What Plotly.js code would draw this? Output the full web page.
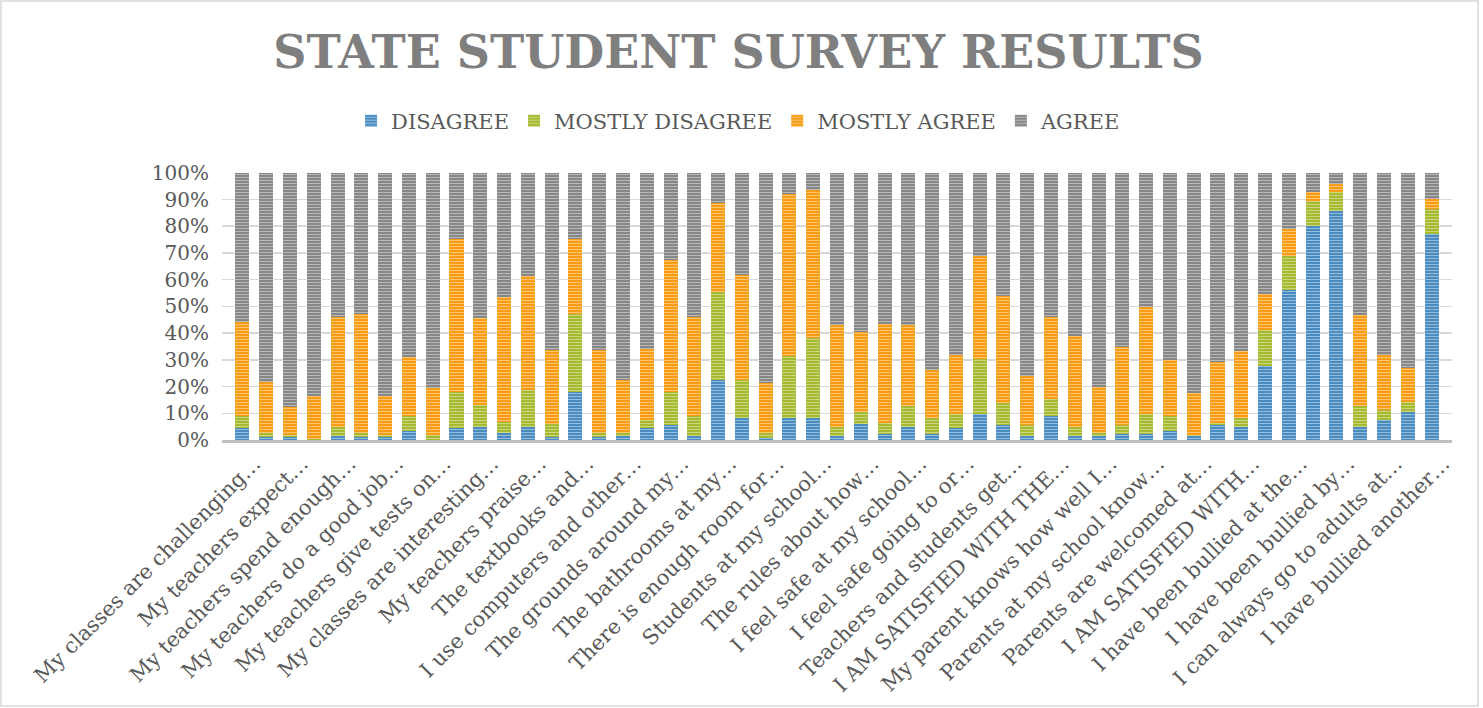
<!DOCTYPE html>
<html>
<head>
<meta charset="utf-8">
<script src="https://cdn.plot.ly/plotly-3.0.1.min.js"></script>
<style>html,body{margin:0;padding:0;background:#fff;}#chart{width:1483px;height:708px;}</style>
</head>
<body>
<div id="chart"></div>
<script>
// Shown tick labels (every other question)
const tickLabels = [
  "My classes are challenging…","My teachers expect…","My teachers spend enough…",
  "My teachers do a good job…","My teachers give tests on…","My classes are interesting…",
  "My teachers praise…","The textbooks and…","I use computers and other…",
  "The grounds around my…","The bathrooms at my…","There is enough room for…",
  "Students at my school…","The rules about how…","I feel safe at my school…",
  "I feel safe going to or…","Teachers and students get…","I AM SATISFIED WITH THE…",
  "My parent knows how well I…","Parents at my school know…","Parents are welcomed at…",
  "I AM SATISFIED WITH…","I have been bullied at the…","I have been bullied by…",
  "I can always go to adults at…","I have bullied another…"
];
const seriesNames = ["DISAGREE","MOSTLY DISAGREE","MOSTLY AGREE","AGREE"];

const disagree = [4.4,1.0,1.0,0.0,1.5,1.0,1.0,3.2,0.0,4.4,4.9,2.6,4.9,1.0,17.8,1.0,1.6,4.4,5.7,1.5,22.4,8.1,0.9,8.1,8.1,1.5,5.9,2.2,4.9,2.2,4.4,9.7,5.7,1.5,8.8,1.5,1.5,2.2,2.2,3.2,1.5,5.7,4.7,27.8,56.3,80.1,85.8,4.7,7.3,10.3,77.1];
const mostlyDisagree = [4.6,1.7,0.7,0.2,3.5,1.7,0.7,5.6,1.7,13.5,8.2,4.0,13.8,4.9,29.3,1.7,0.9,3.1,12.1,7.5,33.0,14.3,1.7,23.2,30.1,3.4,4.6,4.2,7.9,5.9,5.3,20.7,8.0,4.2,6.4,3.5,1.2,3.5,7.5,5.6,0.2,0.8,3.4,13.3,12.6,9.4,7.0,8.1,3.9,3.9,9.5];
const mostlyAgree = [35.0,19.1,10.5,16.4,41.2,44.3,14.7,22.1,17.6,57.2,32.5,47.1,42.7,27.8,28.0,31.0,19.9,26.4,49.6,37.2,33.4,39.4,18.9,60.6,55.2,38.1,30.0,37.2,30.2,18.1,22.1,38.3,40.1,18.2,31.0,33.9,17.2,29.2,40.2,21.2,16.0,22.8,25.3,13.6,10.2,3.2,3.1,34.0,20.6,12.7,3.7];
const agree = [56.0,78.2,87.8,83.4,53.8,53.0,83.6,69.1,80.7,24.9,54.4,46.3,38.6,66.3,24.9,66.3,77.6,66.1,32.6,53.8,11.2,38.2,78.5,8.1,6.6,57.0,59.5,56.4,57.0,73.8,68.2,31.3,46.2,76.1,53.8,61.1,80.1,65.1,50.1,70.0,82.3,70.7,66.6,45.3,20.9,7.3,4.1,53.2,68.2,73.1,9.7];

const colors = ["#4a8cbf","#a6b933","#f79c14","#878787"];
const stripeColors = ["#94bcdc","#cbd67f","#fbc572","#b8b8b8"];
const seriesValues = [disagree, mostlyDisagree, mostlyAgree, agree];

const xs = disagree.map((_, i) => i + 1);
const tickVals = tickLabels.map((_, i) => 2 * i + 1);

const traces = seriesValues.map((vals, k) => ({
  type: "bar",
  name: seriesNames[k],
  x: xs,
  y: vals,
  marker: {color: colors[k], line: {width: 0}},
  hoverinfo: "skip"
}));

const font = "DejaVu Serif, Liberation Serif, serif";
const layout = {
  width: 1483, height: 708,
  barmode: "stack",
  bargap: 0.41,
  paper_bgcolor: "#ffffff",
  plot_bgcolor: "#ffffff",
  margin: {l: 222, r: 31, t: 172, b: 268, pad: 0, autoexpand: false},
  font: {family: font, color: "#595959", size: 20},
  title: {
    text: "<b>STATE STUDENT SURVEY RESULTS</b>",
    font: {family: font, size: 46, color: "#7f7f7f"},
    x: 0.498, xanchor: "center", xref: "container",
    y: 0.927, yanchor: "middle"
  },
  showlegend: true,
  legend: {
    orientation: "h", x: 0.42, xanchor: "center",
    y: 1.19, yanchor: "middle",
    font: {family: font, size: 21, color: "#595959"},
    traceorder: "normal", itemwidth: 30, itemclick: false
  },
  xaxis: {
    range: [0.14, 51.86],
    tickmode: "array", tickvals: tickVals, ticktext: tickLabels,
    tickangle: -45,
    ticklabelshift: 12,
    tickfont: {family: font, size: 21, color: "#595959"},
    showgrid: false, zeroline: false,
    showline: true, linecolor: "#bfbfbf", linewidth: 3,
    ticks: "", fixedrange: true, automargin: false
  },
  yaxis: {
    range: [0, 100.3], tick0: 0, dtick: 10, ticksuffix: "%",
    ticklabelstandoff: 12,
    tickfont: {family: font, size: 20, color: "#595959"},
    showgrid: true, gridcolor: "#d9d9d9", gridwidth: 1.5,
    zeroline: false, showline: false, ticks: "", fixedrange: true, automargin: false
  },
  shapes: [{
    type: "rect", xref: "paper", yref: "paper",
    x0: -0.1797, x1: 1.0211, y0: -0.9925, y1: 1.638,
    line: {color: "#d9d9d9", width: 1.5}, layer: "below"
  }]
};

Plotly.newPlot("chart", traces, layout, {displayModeBar: false, staticPlot: true}).then(gd => {
  // Horizontal-stripe texture like the original chart's fill
  const NS = "http://www.w3.org/2000/svg";
  const svg = gd.querySelector("svg.main-svg");
  let defs = svg.querySelector("defs");
  if (!defs) { defs = document.createElementNS(NS, "defs"); svg.insertBefore(defs, svg.firstChild); }
  colors.forEach((c, k) => {
    const p = document.createElementNS(NS, "pattern");
    p.setAttribute("id", "stripe" + k);
    p.setAttribute("patternUnits", "userSpaceOnUse");
    p.setAttribute("width", "6"); p.setAttribute("height", "3");
    const r1 = document.createElementNS(NS, "rect");
    r1.setAttribute("width", "6"); r1.setAttribute("height", "3"); r1.setAttribute("fill", c);
    const r2 = document.createElementNS(NS, "rect");
    r2.setAttribute("y", "2"); r2.setAttribute("width", "6"); r2.setAttribute("height", "1"); r2.setAttribute("fill", stripeColors[k]);
    p.appendChild(r1); p.appendChild(r2); defs.appendChild(p);
  });
  gd.querySelectorAll("g.barlayer g.trace.bars").forEach((g, k) => {
    g.querySelectorAll("path").forEach(pt => { pt.style.fill = "url(#stripe" + k + ")"; });
  });
  gd.querySelectorAll("g.legend g.traces").forEach((g, k) => {
    g.querySelectorAll(".legendpoints path").forEach(pt => { pt.style.fill = "url(#stripe" + k + ")"; });
  });
});
</script>
</body>
</html>
